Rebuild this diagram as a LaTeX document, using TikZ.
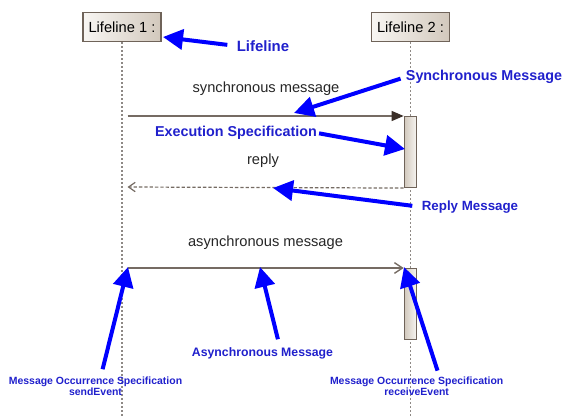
\documentclass[tikz,border=0pt]{standalone}
\usepackage{fontspec}
\setmainfont{Liberation Sans}
\usetikzlibrary{arrows.meta, positioning, calc}
\definecolor{frame}  {HTML}{6F6359}
\definecolor{paper}  {HTML}{F8F6F3}
\definecolor{sand}   {HTML}{D2C8BC}
\definecolor{wire}   {HTML}{756B63}
\definecolor{head}   {HTML}{3B2F28}
\definecolor{dots}   {HTML}{8E8985}
\definecolor{hint}   {HTML}{0000FF}
\definecolor{hinttxt}{HTML}{2020CC}

\tikzset{
  lifebox/.style={draw=frame, line width=0.8pt, left color=paper, right color=sand,
    minimum width=58.5pt, minimum height=22pt, inner sep=0pt, font=\fontsize{11}{13}\selectfont},
  execbar/.style={draw=frame, line width=0.8pt, left color=sand, right color=paper,
    minimum width=9.5pt, inner sep=0pt, anchor=north},
  lifeline/.style={dots, line width=0.8pt, dash pattern=on 1.5pt off 1.5pt},
  syncmsg/.style={wire, line width=1pt, -{Triangle[length=9pt, width=7.5pt, color=head, fill=head]}},
  asyncmsg/.style={wire, line width=1pt, -{Straight Barb[length=6pt, width=8pt]}},
  replymsg/.style={wire, line width=0.9pt, dash pattern=on 2.5pt off 1.5pt, -{Straight Barb[length=5pt, width=7pt]}},
  msglabel/.style={font=\fontsize{11}{13}\selectfont, text=black!85, inner sep=0pt},
  hintlabel/.style={font=\bfseries\fontsize{10.75}{13}\selectfont, text=hinttxt, inner sep=0pt, align=center},
  hintarrow/.style={hint, line width=3pt, -{Triangle[length=15pt, width=15pt]}},
}

\begin{document}
\begin{tikzpicture}[x=0.75pt, y=-0.75pt]
  \useasboundingbox (0,0) rectangle (562,416);

  % lifelines and their heads
  \node[lifebox] (life1) at (122,27) {Lifeline 1 :};
  \node[lifebox] (life2) at (410.5,27) {Lifeline 2 :};
  \coordinate (end1) at (122,416);
  \coordinate (end2) at (410.5,416);
  \draw[lifeline] (life1) -- (end1);
  \draw[lifeline] (life2) -- (end2);

  % execution specifications on lifeline 2
  \node[execbar, minimum height=53.25pt] (exec1) at (410.5,116) {};
  \node[execbar, minimum height=53.25pt] (exec2) at (410.5,268) {};

  % messages
  \coordinate (sync1) at (127.5,116);
  \coordinate (reply1) at (127.5,187);
  \coordinate (async1) at (127.5,268);
  \draw[syncmsg] (sync1) -- (exec1.north west);
  \draw[replymsg] (exec1.south west) -- (reply1);
  \draw[asyncmsg] (async1) -- (exec2.north west);

  \node[msglabel] (synctxt) at (266,89) {synchronous message};
  \node[msglabel] (replytxt) at (263,161) {reply};
  \node[msglabel] (asynctxt) at (265.5,243) {asynchronous message};

  % annotations
  \node[hintlabel, font=\bfseries\fontsize{11.2}{13}\selectfont] (nlife) at (263,46) {Lifeline};
  \node[hintlabel] (nsync) at (484,77) {Synchronous Message};
  \node[hintlabel] (nexec) at (236,133) {Execution Specification};
  \node[hintlabel, font=\bfseries\fontsize{10}{12}\selectfont] (nreply) at (470,207) {Reply Message};
  \node[hintlabel, font=\bfseries\fontsize{9.2}{11}\selectfont] (nasync) at (262.5,353) {Asynchronous Message};
  \node[hintlabel, font=\bfseries\fontsize{7.85}{8.3}\selectfont] (nsend) at (95.5,386)
    {Message Occurrence Specification\\sendEvent};
  \node[hintlabel, font=\bfseries\fontsize{7.85}{8.3}\selectfont] (nrecv) at (416.7,386)
    {Message Occurrence Specification\\receiveEvent};

  \coordinate (tlife) at (163,37);
  \coordinate (tsync) at (294,113);
  \coordinate (texec) at (405,149);
  \coordinate (treply) at (273,188);
  \coordinate (tsend) at (128,267);
  \coordinate (tasync) at (260,267);
  \coordinate (trecv) at (404,267);

  \draw[hintarrow, shorten <=7pt] (nlife.west) -- (tlife);
  \draw[hintarrow, shorten <=4pt] (nsync.west) -- (tsync);
  \draw[hintarrow, shorten <=1.5pt] (nexec.east) -- (texec);
  \draw[hintarrow, shorten <=7pt] (nreply.west) -- (treply);
  \draw[hintarrow, shorten <=5.5pt] ([xshift=4pt]nsend.north) -- (tsend);
  \draw[hintarrow, shorten <=6pt] ([xshift=13pt]nasync.north) -- (tasync);
  \draw[hintarrow, shorten <=4.5pt] ([xshift=17pt]nrecv.north) -- (trecv);
\end{tikzpicture}
\end{document}
